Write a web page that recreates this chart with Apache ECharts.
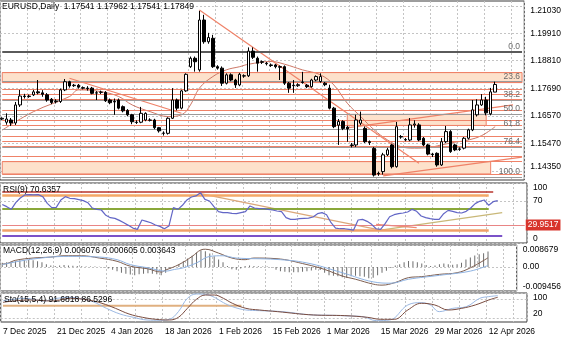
<!DOCTYPE html>
<html>
<head>
<meta charset="utf-8">
<title>EURUSD Daily</title>
<script src="https://cdn.jsdelivr.net/npm/echarts@6.0.0/dist/echarts.min.js"></script>
<style>
html,body{margin:0;padding:0;background:#fff;}
#chart{width:564px;height:338px;}
</style>
</head>
<body>
<div id="chart"></div>
<script>
// Trading days (Sunday to Friday), including the empty shift area on the right
const dates = [
'2025-12-07','2025-12-08','2025-12-09','2025-12-10','2025-12-11','2025-12-12',
'2025-12-14','2025-12-15','2025-12-16','2025-12-17','2025-12-18','2025-12-19',
'2025-12-21','2025-12-22','2025-12-23','2025-12-24','2025-12-25','2025-12-26',
'2025-12-28','2025-12-29','2025-12-30','2025-12-31','2026-01-01','2026-01-02',
'2026-01-04','2026-01-05','2026-01-06','2026-01-07','2026-01-08','2026-01-09',
'2026-01-11','2026-01-12','2026-01-13','2026-01-14','2026-01-15','2026-01-16',
'2026-01-18','2026-01-19','2026-01-20','2026-01-21','2026-01-22','2026-01-23',
'2026-01-25','2026-01-26','2026-01-27','2026-01-28','2026-01-29','2026-01-30',
'2026-02-01','2026-02-02','2026-02-03','2026-02-04','2026-02-05','2026-02-06',
'2026-02-08','2026-02-09','2026-02-10','2026-02-11','2026-02-12','2026-02-13',
'2026-02-15','2026-02-16','2026-02-17','2026-02-18','2026-02-19','2026-02-20',
'2026-02-22','2026-02-23','2026-02-24','2026-02-25','2026-02-26','2026-02-27',
'2026-03-01','2026-03-02','2026-03-03','2026-03-04','2026-03-05','2026-03-06',
'2026-03-08','2026-03-09','2026-03-10','2026-03-11','2026-03-12','2026-03-13',
'2026-03-15','2026-03-16','2026-03-17','2026-03-18','2026-03-19','2026-03-20',
'2026-03-22','2026-03-23','2026-03-24','2026-03-25','2026-03-26','2026-03-27',
'2026-03-29','2026-03-30','2026-03-31','2026-04-01','2026-04-02','2026-04-03',
'2026-04-05','2026-04-06','2026-04-07','2026-04-08','2026-04-09','2026-04-10',
'2026-04-12','2026-04-13','2026-04-14','2026-04-15','2026-04-16','2026-04-17',
'2026-04-19','2026-04-20','2026-04-21'
];

// Daily bars: open, high, low, close
const bars = [
[1.1645,1.1652,1.1640,1.1648],
[1.1632,1.1668,1.1622,1.1645],[1.1641,1.1649,1.1617,1.1629],[1.1629,1.1714,1.1621,1.1702],[1.1702,1.1763,1.1694,1.1738],
[1.1738,1.1747,1.1728,1.1736],[1.1736,1.1744,1.1731,1.1738],[1.1743,1.1763,1.1738,1.1755],[1.1755,1.1803,1.1745,1.1751],
[1.1751,1.1762,1.1735,1.1745],[1.1743,1.1750,1.1715,1.1722],[1.1725,1.1730,1.1705,1.1712],[1.1715,1.1725,1.1708,1.1717],
[1.1716,1.1768,1.1710,1.1763],[1.1763,1.1807,1.1758,1.1796],[1.1796,1.1800,1.1772,1.1779],[1.1780,1.1787,1.1775,1.1782],
[1.1782,1.1787,1.1768,1.1774],[1.1772,1.1777,1.1765,1.1770],[1.1770,1.1778,1.1760,1.1768],[1.1770,1.1775,1.1745,1.1749],
[1.1751,1.1758,1.1722,1.1750],[1.1753,1.1760,1.1746,1.1754],[1.1753,1.1758,1.1714,1.1719],[1.1722,1.1728,1.1705,1.1711],
[1.1716,1.1728,1.1662,1.1714],[1.1722,1.1728,1.1684,1.1689],[1.1695,1.1700,1.1672,1.1678],[1.1680,1.1685,1.1656,1.1662],
[1.1662,1.1666,1.1624,1.1634],[1.1632,1.1640,1.1625,1.1631],[1.1632,1.1694,1.1628,1.1668],[1.1641,1.1672,1.1636,1.1668],
[1.1641,1.1648,1.1635,1.1640],[1.1641,1.1646,1.1604,1.1610],[1.1610,1.1613,1.1590,1.1597],[1.1587,1.1595,1.1578,1.1588],
[1.1587,1.1652,1.1582,1.1648],[1.1648,1.1770,1.1645,1.1722],[1.1722,1.1728,1.1680,1.1689],[1.1689,1.1763,1.1684,1.1759],
[1.1759,1.1830,1.1755,1.1826],[1.1857,1.1898,1.1852,1.1891],[1.1891,1.1898,1.1837,1.1877],[1.1844,1.2083,1.1837,1.2046],
[1.2046,1.2067,1.1950,1.1958],[1.1958,1.1994,1.1950,1.1975],[1.1972,1.1986,1.1852,1.1857],[1.1857,1.1863,1.1845,1.1851],
[1.1851,1.1858,1.1779,1.1790],[1.1790,1.1830,1.1785,1.1824],[1.1824,1.1830,1.1798,1.1803],[1.1803,1.1808,1.1771,1.1783],
[1.1783,1.1832,1.1778,1.1826],[1.1820,1.1826,1.1812,1.1819],[1.1820,1.1935,1.1815,1.1920],[1.1920,1.1935,1.1888,1.1895],
[1.1891,1.1898,1.1837,1.1871],[1.1877,1.1882,1.1868,1.1875],[1.1871,1.1876,1.1862,1.1869],[1.1864,1.1870,1.1856,1.1862],
[1.1864,1.1868,1.1850,1.1857],[1.1857,1.1862,1.1803,1.1855],[1.1857,1.1862,1.1783,1.1790],[1.1790,1.1795,1.1751,1.1770],
[1.1782,1.1803,1.1751,1.1780],[1.1780,1.1790,1.1775,1.1784],[1.1795,1.1836,1.1788,1.1793],[1.1782,1.1787,1.1770,1.1776],
[1.1776,1.1808,1.1772,1.1803],[1.1803,1.1822,1.1798,1.1817],[1.1797,1.1830,1.1792,1.1817],[1.1790,1.1795,1.1778,1.1784],
[1.1770,1.1784,1.1684,1.1689],[1.1689,1.1694,1.1608,1.1614],[1.1620,1.1645,1.1540,1.1635],[1.1635,1.1640,1.1600,1.1607],
[1.1612,1.1618,1.1553,1.1605],[1.1540,1.1548,1.1530,1.1538],[1.1540,1.1662,1.1532,1.1641],[1.1628,1.1675,1.1620,1.1641],
[1.1607,1.1615,1.1548,1.1553],[1.1553,1.1558,1.1540,1.1550],[1.1526,1.1532,1.1412,1.1418],[1.1425,1.1432,1.1415,1.1423],
[1.1432,1.1508,1.1420,1.1500],[1.1500,1.1528,1.1495,1.1520],[1.1540,1.1545,1.1445,1.1452],[1.1452,1.1633,1.1448,1.1614],
[1.1574,1.1580,1.1565,1.1572],[1.1560,1.1568,1.1555,1.1562],[1.1560,1.1649,1.1555,1.1621],[1.1621,1.1640,1.1610,1.1625],
[1.1621,1.1628,1.1555,1.1560],[1.1567,1.1572,1.1535,1.1540],[1.1540,1.1545,1.1498,1.1503],[1.1503,1.1508,1.1491,1.1501],
[1.1506,1.1510,1.1452,1.1459],[1.1459,1.1568,1.1455,1.1553],[1.1553,1.1617,1.1548,1.1594],[1.1594,1.1600,1.1508,1.1513],
[1.1540,1.1545,1.1515,1.1520],[1.1522,1.1530,1.1516,1.1524],[1.1527,1.1572,1.1522,1.1567],[1.1567,1.1606,1.1562,1.1601],
[1.1601,1.1722,1.1596,1.1682],[1.1662,1.1725,1.1655,1.1702],[1.1702,1.1746,1.1698,1.1722],[1.1722,1.1735,1.1660,1.1670],
[1.1666,1.1771,1.1660,1.1755],[1.17541,1.17962,1.17541,1.17849]
];

// Moving average on the price panel: [bar index, value]
const maPoints = [[0,1.1600],[7,1.1675],[15,1.1736],[17,1.1763],[22,1.1756],[26,1.1736],[29,1.1702],[33,1.1675],
[37,1.1655],[40,1.1662],[42,1.1702],[44,1.1770],[47,1.1817],[50,1.1844],[53,1.1857],[55,1.1867],[60,1.1878],
[63,1.1867],[67,1.1844],[71,1.1824],[74,1.1783],[77,1.1709],[80,1.1655],[83,1.1601],[86,1.1560],[89,1.1533],
[92,1.1527],[95,1.1529],[98,1.1540],[101,1.1551],[104,1.1560],[107,1.1578],[110,1.1614]];

// RSI(9)
const rsi = [64.3,
60.6,56.1,67.2,75.0,80.1,80.6,80.1,80.6,77.2,66.1,
58.9,59.4,71.7,77.2,74.5,73.9,72.3,70.6,67.2,58.3,
56.1,55.0,46.1,42.2,41.1,37.7,33.8,29.4,24.9,22.7,
38.3,36.1,33.8,30.0,27.7,23.8,28.3,58.9,56.1,62.8,
71.7,76.7,78.4,83.9,72.8,70.0,60.6,52.2,50.6,50.6,
49.4,48.9,50.6,52.2,61.7,58.3,57.2,57.2,56.1,55.0,
53.3,52.2,42.2,39.4,39.4,40.5,41.1,41.6,43.3,48.9,
50.6,47.2,33.8,24.9,23.8,23.8,22.7,21.6,38.3,39.4,
36.1,31.1,23.8,22.7,32.2,43.8,47.2,48.9,50.0,51.7,
56.1,52.8,45.0,42.2,40.5,39.4,39.4,48.9,54.4,52.8,
50.6,50.0,52.8,58.3,65.6,69.5,71.7,62.8,68.9,70.6357];

// MACD(12,26,9) histogram
const macdHist = [0.0017,
0.0019,0.0021,0.0023,0.0027,0.0028,0.0028,0.0027,0.0023,0.0019,0.0011,
0.0006,0.0004,0.0006,0.0008,0.0006,0.0005,0.0004,0.0003,0.0002,0.0002,
0.0002,0.0001,-0.0002,-0.0006,-0.0011,-0.0017,-0.0023,-0.0027,-0.0030,-0.0032,
-0.0029,-0.0027,-0.0025,-0.0027,-0.0029,-0.0032,-0.0023,-0.0008,0.0000,0.0011,
0.0023,0.0034,0.0044,0.0057,0.0065,0.0062,0.0053,0.0042,0.0030,0.0019,
0.0004,-0.0009,-0.0011,-0.0006,0.0004,0.0006,0.0004,0.0003,0.0002,0.0002,
-0.0002,-0.0011,-0.0017,-0.0019,-0.0021,-0.0021,-0.0021,-0.0019,-0.0017,-0.0014,
-0.0011,-0.0012,-0.0023,-0.0032,-0.0034,-0.0036,-0.0040,-0.0042,-0.0036,-0.0034,
-0.0036,-0.0038,-0.0044,-0.0042,-0.0032,-0.0023,-0.0015,-0.0004,0.0006,0.0011,
0.0019,0.0024,0.0023,0.0019,0.0014,0.0008,0.0004,0.0006,0.0011,0.0014,
0.0011,0.0009,0.0011,0.0017,0.0030,0.0038,0.0045,0.0050,0.0054,0.006076];
// MACD lines: [bar index, value]
const macdSlow = [[0,0.0012],[1,0.00135],[3,0.00264],[7,0.00354],[11,0.00392],[14,0.00444],[18,0.00444],[22,0.00354],
[26,0.00225],[29,0.00032],[33,-0.00071],[36,-0.00199],[37,-0.00122],[40,0.00096],[43,0.00418],[45,0.00675],
[46,0.00701],[49,0.00547],[52,0.00354],[55,0.00289],[57,0.00354],[62,0.0033],[69,0.00096],[73,-0.00096],
[77,-0.00354],[80,-0.00482],[84,-0.00675],[86,-0.00714],[89,-0.00611],[92,-0.00418],[95,-0.00379],
[99,-0.00289],[103,-0.00225],[106,-0.00032],[110,0.003643]];
const macdFast = [[0,0.00096],[7,0.00315],[15,0.00418],[22,0.00392],[26,0.00289],[29,0.00096],[33,-0.00032],
[37,-0.00161],[39,-0.00096],[41,-0.00032],[44,0.00161],[47,0.00418],[50,0.00444],[53,0.00354],[62,0.0030],
[69,0.00161],[77,-0.00225],[84,-0.00585],[88,-0.00637],[92,-0.00482],[99,-0.00328],[106,-0.00161],[110,0.000605]];

// Stochastic(15,5,4): [bar index, value]
const stochMain = [[0,75],[1,77.8],[5,83.1],[9,74.6],[12,83.1],[15,86.3],[18,79.9],[20,72.5],[23,51.4],[26,33.5],
[29,22.9],[32,14.4],[35,13.4],[37,16.5],[39,40.9],[41,83.1],[43,96.8],[45,95.7],[47,86.3],[49,69.4],[51,56.7],
[54,46.1],[57,44],[62,40.9],[69,30.3],[73,29.2],[77,27.1],[80,25.0],[83,12.3],[86,14.4],[90,62],[93,69.4],
[95,62],[97,40.9],[100,51.4],[103,56.7],[106,83.1],[108,88.4],[110,91.6818]];
const stochSignal = [[0,70],[1,72.5],[6,77.8],[11,74.6],[15,83.1],[19,77.8],[22,67.3],[25,51.4],[28,33.5],[31,22.9],
[34,16.5],[37,14.4],[39,22.9],[41,51.4],[43,79.9],[45,93.6],[47,93.6],[49,83.1],[51,67.3],[54,51.4],[57,46.1],
[61,40.9],[69,30.3],[76,28.2],[81,22.9],[84,16.5],[87,16.5],[90,46.1],[93,67.3],[96,62],[99,46.1],[102,51.4],
[105,62],[108,77.8],[110,86.5296]];

// Axis tick labels
const priceTicks = [1.1435,1.1547,1.1657,1.1769,1.1881,1.1991,1.2103];
const rsiTicks = [0,70,100];
const macdTicks = [-0.009456,0,0.008679];
const stochTicks = [20,80,100];
const lastPrice = 1.17849;

// Drawn objects on the price panel
const levelPrices = [1.18329,1.17924,1.17668,1.17454,1.17251,1.16818,1.16413,1.16182,1.15765,1.15534,1.15332,1.14955,1.14724,1.14226];
const bands = [[1.18329,1.17924,0,116],[1.14724,1.14226,0,109],[1.1664,1.1619,77,108]]; // top, bottom, from bar, to bar
const fibPrices = [1.19155,1.17963,1.17226,1.16630,1.16034,1.15297,1.14105];
const fibNames = ['0.0','23.6','38.2','50.0','61.8','76.4','100.0'];
const trendLines = [[[15,1.18102],[40,1.16684]],[[44,1.20868],[93,1.14659]],[[85,1.14145],[116,1.14904]],[[77,1.16089],[114,1.17021]]];

// Drawn objects on the RSI panel
const rsiLevels = [85,79.5,56.9,21.5,11.5];
const rsiLevelEnds = [109,108,108,108,111];
const rsiMarked = 29.9517;
const rsiTrend = [[[44,82.3],[84,21.5]],[[84,21.5],[111,50.6]],[[83,31],[92,25.5]]];
// Stochastic panel level: value, from bar, to bar
const stochLevel = [59.9,0,53];

const FONT = '"Liberation Sans Narrow","Liberation Sans",Arial,sans-serif';
const SALMON = '#ef8268';
const LAST = dates.length - 1;
const rsiLevelColors = ['#b8342c','#f4a868','#8aa83a','#f0a068','#7b52c8'];
const rsiLevelWidths = [1.5,2.5,2,2.5,2];
const months = ['Jan','Feb','Mar','Apr','May','Jun','Jul','Aug','Sep','Oct','Nov','Dec'];

const chart = echarts.init(document.getElementById('chart'), null, {width:564, height:338});

const panels = [
  {top:1, height:179},
  {top:183, height:60},
  {top:245, height:46},
  {top:293, height:29}
];
const grid = panels.map(p => ({left:0, width:527, top:p.top, height:p.height, show:true,
  borderColor:'#3a3a3a', borderWidth:1, backgroundColor:'#fff'}));

const xAxis = panels.map((p, i) => ({
  type:'category', gridIndex:i, data:dates, boundaryGap:true,
  axisLine:{show:false}, axisTick:{show:false},
  axisLabel: i === 3 ? {
    show:true, interval:(idx) => idx % 12 === 0, align:'left', fontSize:8.5, fontFamily:FONT,
    color:'#000', margin:5,
    formatter:(v) => { const [y,m,d] = v.split('-'); return (+d) + ' ' + months[+m-1] + ' ' + y; }
  } : {show:false},
  splitLine:{show:true, interval:(idx) => idx % 6 === 0, lineStyle:{color:'#c4c4c4', type:[2,2], width:1}}
}));

function valAxis(i, min, max, ticks, fmt) {
  return {
    type:'value', gridIndex:i, position:'right', min:min, max:max, scale:true,
    axisLine:{show:false},
    axisTick:{show:false, customValues:ticks},
    axisLabel:{show:true, customValues:ticks, formatter:fmt, fontSize:8.5, fontFamily:FONT, color:'#000',
      margin:6, showMinLabel:true, showMaxLabel:true, hideOverlap:false,
      verticalAlignMaxLabel:'top', verticalAlignMinLabel:'bottom'},
    splitLine:{show:true, lineStyle:{color:'#c4c4c4', type:[2,2], width:1}}
  };
}
const yAxis = [
  valAxis(0, 1.1398, 1.2123, priceTicks, v => v.toFixed(5)),
  valAxis(1, 0, 100, rsiTicks, v => String(Math.round(v))),
  valAxis(2, -0.009456, 0.008679, macdTicks, v => (Math.abs(v) < 1e-9 ? '0.00' : v.toFixed(6))),
  valAxis(3, 8, 100, stochTicks, v => String(Math.round(v)))
];

// horizontal segment helper for mark lines: value from bar a to bar b
function hSeg(v, a, b, style, label) {
  const start = {coord:[a, v], lineStyle:style};
  if (label) start.label = label;
  return [start, {coord:[b, v]}];
}

const bandAreas = bands.map(b => [{coord:[b[2], b[0]]}, {coord:[b[3], b[1]]}]);
const levelLines = levelPrices.map(p => hSeg(p, 0, LAST, {color:SALMON, width:1.1, type:'solid'}));
const fibLines = fibPrices.map((p, i) => hSeg(p, 0, LAST,
  {color: i === 0 ? '#5a5a5a' : '#9a9a9a', width: i === 0 ? 2 : 1, type:'solid'},
  {show:true, formatter:fibNames[i], position:'insideEndTop', distance:[2,1], color:'#6a6a6a',
   fontSize:8.5, fontFamily:FONT}));

const series = [];
// price-panel backdrop: bands, horizontal levels, Fibonacci lines
series.push({
  type:'line', xAxisIndex:0, yAxisIndex:0, data:[], z:1, silent:true, animation:false,
  markArea:{silent:true, itemStyle:{color:'#fde1cb', borderColor:SALMON, borderWidth:1}, data:bandAreas}
});
series.push({
  type:'line', xAxisIndex:0, yAxisIndex:0, data:[], z:2, silent:true, animation:false,
  markLine:{silent:true, symbol:'none', animation:false, label:{show:false}, data:levelLines}
});
series.push({
  type:'line', xAxisIndex:0, yAxisIndex:0, data:[], z:3, silent:true, animation:false,
  markLine:{silent:true, symbol:'none', animation:false, label:{show:false}, data:fibLines}
});
// candles
series.push({
  type:'candlestick', xAxisIndex:0, yAxisIndex:0, z:5, barWidth:3,
  data: bars.map(b => [b[0], b[3], b[2], b[1]]),
  itemStyle:{color:'#ffffff', color0:'#000000', borderColor:'#000000', borderColor0:'#000000', borderWidth:1},
  markLine:{silent:true, symbol:'none', animation:false,
    data:[{yAxis:lastPrice, lineStyle:{opacity:0},
      label:{show:true, position:'end', distance:1, formatter:lastPrice.toFixed(5), color:'#fff',
        backgroundColor:'#000', padding:[1,2,1,2], fontSize:8.5, fontFamily:FONT}}]}
});
series.push({type:'line', xAxisIndex:0, yAxisIndex:0, z:4, data:maPoints, smooth:0.4, symbol:'none',
  lineStyle:{color:'#cd7766', width:1}});
trendLines.forEach(t => series.push({type:'line', xAxisIndex:0, yAxisIndex:0, z:4, data:t, symbol:'none',
  lineStyle:{color:SALMON, width:1.2}}));

// RSI panel
series.push({
  type:'line', xAxisIndex:1, yAxisIndex:1, z:5, data:rsi, symbol:'none', lineStyle:{color:'#6266c6', width:1.2},
  markLine:{silent:true, symbol:'none', animation:false, label:{show:false},
    data: rsiLevels.map((v, i) => hSeg(v, 0, rsiLevelEnds[i],
      {color:rsiLevelColors[i], width:rsiLevelWidths[i], type:'solid'}))
      .concat([hSeg(rsiMarked, 0, LAST, {color:'#e98585', width:1, type:'solid'},
        {show:true, position:'end', distance:1, formatter:String(rsiMarked), color:'#fff',
         backgroundColor:'#d8342c', padding:[1,2,1,2], fontSize:8.5, fontFamily:FONT})])}
});
const rsiTrendColors = ['#dba77a','#c9b878','#ef8a74'];
rsiTrend.forEach((t, i) => series.push({type:'line', xAxisIndex:1, yAxisIndex:1, z:4, data:t, symbol:'none',
  lineStyle:{color:rsiTrendColors[i], width:1.2}}));

// MACD panel
series.push({type:'bar', xAxisIndex:2, yAxisIndex:2, z:3, data:macdHist, barWidth:1,
  itemStyle:{color:'#6e6e6e'}});
series.push({type:'line', xAxisIndex:2, yAxisIndex:2, z:4, data:macdSlow, smooth:0.4, symbol:'none',
  lineStyle:{color:'#7d5e50', width:1}});
series.push({type:'line', xAxisIndex:2, yAxisIndex:2, z:4, data:macdFast, smooth:0.4, symbol:'none',
  lineStyle:{color:'#8fb3e2', width:1}});

// Stochastic panel
series.push({type:'line', xAxisIndex:3, yAxisIndex:3, z:3, data:[[stochLevel[1], stochLevel[0]],[stochLevel[2], stochLevel[0]]],
  symbol:'none', lineStyle:{color:'#e0b080', width:2}});
series.push({type:'line', xAxisIndex:3, yAxisIndex:3, z:4, data:stochMain, smooth:0.4, symbol:'none',
  lineStyle:{color:'#9bb8e2', width:1}});
series.push({type:'line', xAxisIndex:3, yAxisIndex:3, z:4, data:stochSignal, smooth:0.4, symbol:'none',
  lineStyle:{color:'#7a4c40', width:1}});

const headerStyle = {font:'8.5px ' + FONT, fill:'#000'};
chart.setOption({
  animation:false,
  backgroundColor:'#fff',
  grid, xAxis, yAxis, series,
  graphic:[
    {type:'text', left:2, top:2, z:100, style:Object.assign({text:'EURUSD,Daily  1.17541 1.17962 1.17541 1.17849'}, headerStyle)},
    {type:'text', left:3, top:185, z:100, style:Object.assign({text:'RSI(9) 70.6357'}, headerStyle)},
    {type:'text', left:3, top:246, z:100, style:Object.assign({text:'MACD(12,26,9) 0.006076 0.000605 0.003643'}, headerStyle)},
    {type:'text', left:4, top:295, z:100, style:Object.assign({text:'Sto(15,5,4) 91.6818 86.5296'}, headerStyle)}
  ]
});
</script>
</body>
</html>
